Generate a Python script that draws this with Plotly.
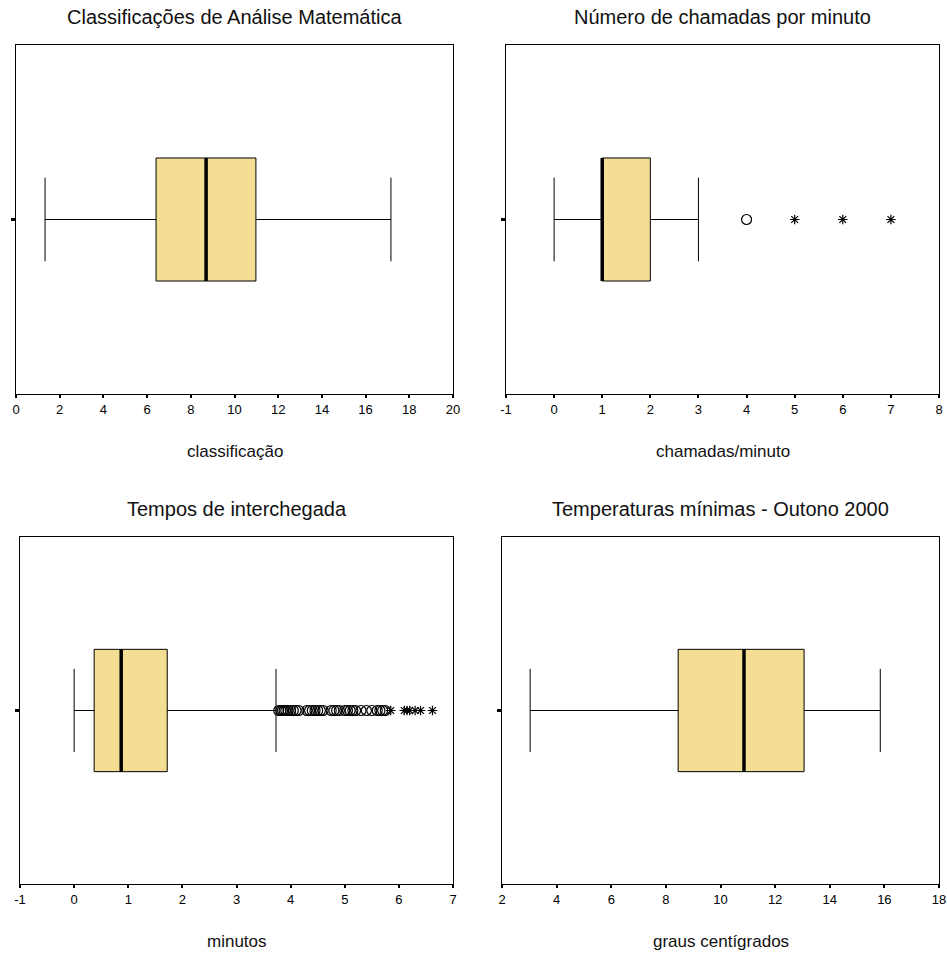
import plotly.graph_objects as go

# ---- data -------------------------------------------------------------
titles = ["Classificações de Análise Matemática", "Número de chamadas por minuto",
          "Tempos de interchegada", "Temperaturas mínimas - Outono 2000"]
x_titles = ["classificação", "chamadas/minuto", "minutos", "graus centígrados"]

lower_fence = [1.33, 0.0, 0.0, 3.03]
q1 = [6.41, 1.0, 0.37, 8.45]
median = [8.70, 1.0, 0.87, 10.86]
q3 = [10.98, 2.0, 1.72, 13.06]
upper_fence = [17.16, 3.0, 3.73, 15.85]

# outliers (circles) and extremes (stars) per panel
outliers = [[], [4.0],
            [3.78, 3.82, 3.85, 3.88, 3.91, 3.95, 4.0, 4.05, 4.1, 4.15, 4.3, 4.35,
             4.4, 4.45, 4.5, 4.55, 4.6, 4.75, 4.8, 4.85, 4.9, 5.0, 5.05, 5.1,
             5.15, 5.2, 5.3, 5.4, 5.5, 5.6, 5.65, 5.7, 5.75],
            []]
extremes = [[], [5.0, 6.0, 7.0],
            [5.85, 6.1, 6.15, 6.2, 6.3, 6.4, 6.62],
            []]

x_ticks = [[0, 2, 4, 6, 8, 10, 12, 14, 16, 18, 20],
           [-1, 0, 1, 2, 3, 4, 5, 6, 7, 8],
           [-1, 0, 1, 2, 3, 4, 5, 6, 7],
           [2, 4, 6, 8, 10, 12, 14, 16, 18]]

# ---- layout geometry --------------------------------------------------
W, H = 947, 953
x_domains = [[16 / W, 453 / W], [506 / W, 939 / W], [20 / W, 453 / W], [502 / W, 939 / W]]
y_domains = [[1 - 394 / H, 1 - 45 / H], [1 - 394 / H, 1 - 45 / H],
             [1 - 884 / H, 1 - 537 / H], [1 - 884 / H, 1 - 537 / H]]
box_w = 0.705
fill = "#F3DE94"
font = "Arial, Liberation Sans, sans-serif"

fig = go.Figure()
annotations = []
layout = {}

for i in range(4):
    sfx = "" if i == 0 else str(i + 1)
    xa, ya = "x" + sfx, "y" + sfx

    fig.add_trace(go.Box(
        y=[0], q1=[q1[i]], median=[median[i]], q3=[q3[i]],
        lowerfence=[lower_fence[i]], upperfence=[upper_fence[i]],
        orientation="h", width=box_w, whiskerwidth=0.68,
        fillcolor=fill, line=dict(color="#000000", width=1),
        boxpoints=False, hoverinfo="skip", showlegend=False,
        xaxis=xa, yaxis=ya))

    # thick median line
    fig.add_trace(go.Scatter(
        x=[median[i], median[i]], y=[-box_w / 2, box_w / 2], mode="lines",
        line=dict(color="#000000", width=3.5), showlegend=False,
        hoverinfo="skip", xaxis=xa, yaxis=ya))

    if outliers[i]:
        fig.add_trace(go.Scatter(
            x=outliers[i], y=[0] * len(outliers[i]), mode="markers",
            marker=dict(symbol="circle-open", size=10, color="#000000",
                        line=dict(width=1.2, color="#000000")),
            showlegend=False, hoverinfo="skip", xaxis=xa, yaxis=ya))
    if extremes[i]:
        fig.add_trace(go.Scatter(
            x=extremes[i], y=[0] * len(extremes[i]), mode="markers",
            marker=dict(symbol="asterisk-open", size=8, color="#000000",
                        line=dict(width=1.2, color="#000000")),
            showlegend=False, hoverinfo="skip", xaxis=xa, yaxis=ya))

    ticks = x_ticks[i]
    layout["xaxis" + sfx] = dict(
        domain=x_domains[i], anchor=ya, range=[ticks[0], ticks[-1]],
        tickvals=ticks, ticktext=[str(t) for t in ticks],
        showgrid=False, zeroline=False, automargin=False,
        showline=True, linecolor="#000000", linewidth=1, mirror=True,
        ticks="outside", ticklen=3, tickwidth=2, tickcolor="#000000",
        tickfont=dict(family=font, size=13, color="#000000"))
    layout["yaxis" + sfx] = dict(
        domain=y_domains[i], anchor=xa, range=[-1, 1], automargin=False,
        tickvals=[0], ticktext=[""], showgrid=False, zeroline=False,
        showline=True, linecolor="#000000", linewidth=1, mirror=True,
        ticks="outside", ticklen=4, tickwidth=3, tickcolor="#000000")

    xc = (x_domains[i][0] + x_domains[i][1]) / 2
    annotations.append(dict(
        text=titles[i], x=xc, y=y_domains[i][1] + 28 / H, xref="paper", yref="paper",
        showarrow=False, xanchor="center", yanchor="middle",
        font=dict(family=font, size=20, color="#111111")))
    annotations.append(dict(
        text=x_titles[i], x=xc, y=y_domains[i][0] - 57 / H, xref="paper", yref="paper",
        showarrow=False, xanchor="center", yanchor="middle",
        font=dict(family=font, size=17, color="#111111")))

fig.update_layout(
    width=W, height=H, margin=dict(l=0, r=0, t=0, b=0),
    paper_bgcolor="#FFFFFF", plot_bgcolor="#FFFFFF",
    annotations=annotations, **layout)

fig.write_html("out.html")
